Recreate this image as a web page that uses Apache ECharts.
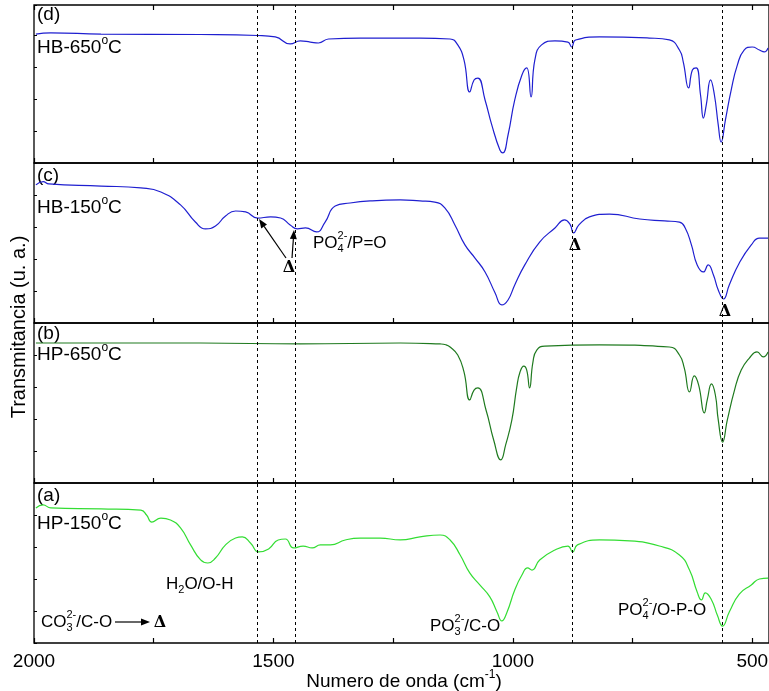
<!DOCTYPE html>
<html>
<head>
<meta charset="utf-8">
<script src="https://cdn.jsdelivr.net/npm/echarts@6/dist/echarts.min.js"></script>
<style>html,body{margin:0;padding:0;background:#fff}#c{width:769px;height:691px}</style>
</head>
<body>
<div id="c"></div>
<script>
// ---- data (wavenumber cm^-1, transmittance a.u.) ----
const wnD = [1996,1965,1860,1652,1533,1496,1465,1444,1423,1406,1385,1319,1194,1131,1115,1102,1090,1081,1073,1058,1044,1027,1021,1010,996,981,971,962,954,940,912,885,877,869,819,715,673,652,644,633,625,617,608,602,596,587,579,571,565,556,544,531,517,500,485,475,467];
const trD = [80.6,81.3,80.6,80.3,79.7,78.8,74.4,76.3,75.6,75.0,77.5,78.1,78.1,77.5,73.8,64.4,44.4,51.9,53.1,39.4,23.8,8.1,6.3,17.5,39.4,55.0,59.4,41.3,64.4,73.8,76.3,75.6,72.5,76.9,78.8,78.1,76.9,70.6,63.1,46.9,58.1,59.4,42.5,28.1,36.3,51.9,42.5,23.8,13.1,26.9,45.6,61.3,70.6,72.5,70.6,69.4,71.9];

const wnC = [1996,1981,1969,1860,1777,1735,1694,1663,1642,1621,1600,1579,1558,1533,1506,1485,1465,1450,1433,1410,1392,1371,1340,1298,1235,1194,1163,1142,1121,1100,1079,1058,1037,1023,1010,996,975,944,912,892,881,873,862,840,798,735,683,652,640,627,615,602,592,581,571,560,548,527,502,485,467];
const trC = [86.3,88.4,86.9,85.6,84.4,81.9,73.8,63.1,58.8,60.6,66.9,70.0,69.4,65.6,66.3,65.6,61.3,58.8,59.4,56.9,63.1,73.1,75.0,76.3,76.9,76.3,75.6,71.9,61.3,48.8,40.6,31.9,18.8,11.3,14.4,23.8,36.3,50.6,59.4,64.4,61.9,56.3,61.3,66.3,68.1,65.0,63.8,63.1,59.4,48.8,36.3,31.9,36.3,30.0,20.6,15.0,23.8,37.5,48.8,53.1,53.1];

const wnB = [1996,1860,1652,1444,1235,1152,1140,1131,1115,1102,1090,1081,1073,1056,1040,1025,1015,1002,992,985,977,971,965,958,950,933,819,673,652,642,631,621,612,600,594,585,577,571,562,552,537,523,506,490,477,467];
const trB = [87.5,87.5,87.5,86.9,87.5,86.9,86.4,85.0,80.0,69.4,51.9,58.1,59.4,45.6,26.9,14.4,23.8,39.4,59.4,69.4,73.1,70.6,59.4,75.6,83.1,85.6,86.3,85.0,80.0,71.9,56.9,66.9,61.3,43.8,51.9,61.9,55.0,39.4,25.6,39.4,58.1,70.6,78.1,81.9,78.8,81.9];

const wnA = [1996,1981,1965,1860,1777,1765,1754,1735,1715,1694,1673,1652,1637,1621,1600,1579,1565,1548,1531,1510,1490,1475,1458,1438,1419,1402,1381,1350,1319,1277,1235,1194,1152,1131,1110,1090,1069,1048,1033,1023,1012,996,981,969,960,944,912,885,875,865,819,756,694,652,631,615,606,598,585,573,562,548,527,502,485,467];
const trA = [84.4,86.3,84.4,83.8,83.1,80.0,75.6,78.1,76.9,71.9,61.3,51.9,50.0,53.1,61.3,65.6,66.3,62.5,56.9,58.8,64.4,65.0,59.4,60.6,59.4,61.3,61.3,64.4,65.6,65.6,64.4,66.3,67.5,64.4,55.0,43.8,36.3,28.8,19.4,13.8,19.4,33.1,42.5,46.9,45.6,51.9,58.1,60.6,56.9,61.3,64.4,63.8,60.6,55.0,45.6,31.9,26.9,31.3,26.9,17.5,10.6,19.4,30.6,36.3,40.0,40.6];

const refLines = [1533, 1454, 875, 562];
const tickValues = [500, 750, 1000, 1250, 1500, 1750, 2000];
const labelValues = [500, 1000, 1500, 2000];
const panelNames = ['(d)', '(c)', '(b)', '(a)'];
const sampleBase = ['HB-650', 'HB-150', 'HP-650', 'HP-150'];
const colors = ['#1f1fd0', '#1f1fd0', '#1f7a1f', '#33dd33'];

// ---- layout ----
const FONT = '"Liberation Sans", Arial, sans-serif';
const grids = [
  {left: 34, right: 0, top: 5, height: 158},
  {left: 34, right: 0, top: 163, height: 160},
  {left: 34, right: 0, top: 323, height: 160},
  {left: 34, right: 0, top: 483, height: 160}
];
const yMax = [98.75, 100, 100, 100];
const series = [[wnD, trD], [wnC, trC], [wnB, trB], [wnA, trA]];

const cv = document.createElement('canvas').getContext('2d');
function measure(t, size, fam) { cv.font = size + 'px ' + (fam || FONT); return cv.measureText(t).width; }
function txt(t, x, y, size, opts) {
  opts = opts || {};
  return {type: 'text', x: x, y: y, rotation: opts.rotation || 0, silent: true,
    style: {text: t, fill: '#000', font: (opts.weight || '') + ' ' + size + 'px ' + (opts.fam || FONT),
      align: opts.align || 'left', verticalAlign: 'middle', textAlign: opts.align || 'left', textVerticalAlign: 'middle'}};
}
function chem(x, y, size, base, sup, sub, rest) {
  const out = [];
  const ss = Math.round(size * 0.62);
  out.push(txt(base, x, y, size));
  const w = measure(base, size);
  if (sup) out.push(txt(sup, x + w, y - size * 0.40, ss));
  if (sub) out.push(txt(sub, x + w, y + size * 0.38, ss));
  const w2 = Math.max(sup ? measure(sup, ss) : 0, sub ? measure(sub, ss) : 0);
  out.push(txt(rest, x + w + w2, y, size));
  return out;
}
function arrow(x1, y1, x2, y2) {
  const a = Math.atan2(y2 - y1, x2 - x1), L = 9, H = 3.5;
  const bx = x2 - L * Math.cos(a), by = y2 - L * Math.sin(a);
  const px = -Math.sin(a) * H, py = Math.cos(a) * H;
  return [
    {type: 'line', silent: true, shape: {x1: x1, y1: y1, x2: bx, y2: by}, style: {stroke: '#000', lineWidth: 1.2}},
    {type: 'polygon', silent: true, shape: {points: [[x2, y2], [bx + px, by + py], [bx - px, by - py]]}, style: {fill: '#000'}}
  ];
}

const xAxis = grids.map((g, i) => ({
  type: 'value', gridIndex: i, min: 465, max: 2000, inverse: true,
  axisLine: {show: false}, splitLine: {show: false},
  axisTick: {show: true, inside: true, length: 5, customValues: tickValues, lineStyle: {color: '#000', width: 1.2}},
  axisLabel: {show: i === 3, customValues: labelValues, color: '#000', fontSize: 19, fontFamily: FONT, margin: 9,
    formatter: v => String(v)}
}));
// top ticks of the upper panel
xAxis.push({
  type: 'value', gridIndex: 0, position: 'top', min: 465, max: 2000, inverse: true,
  axisLine: {show: false}, splitLine: {show: false}, axisLabel: {show: false},
  axisTick: {show: true, inside: true, length: 5, customValues: tickValues, lineStyle: {color: '#000', width: 1.2}}
});
const yAxis = grids.map((g, i) => ({
  type: 'value', gridIndex: i, min: 0, max: yMax[i], interval: 20,
  axisLine: {show: false}, splitLine: {show: false}, axisLabel: {show: false},
  axisTick: {show: true, inside: true, length: 3, lineStyle: {color: '#000', width: 1}}
}));
const ser = series.map((s, i) => ({
  type: 'line', xAxisIndex: i, yAxisIndex: i, showSymbol: false, smooth: 0.5,
  data: s[0].map((w, k) => [w, s[1][k]]),
  lineStyle: {color: colors[i], width: 1.2}, itemStyle: {color: colors[i]}, silent: true,
  markLine: {silent: true, symbol: 'none', label: {show: false},
    lineStyle: {color: '#000', type: [3, 3], width: 1},
    data: refLines.map(v => ({xAxis: v}))}
}));

let gfx = [];
const labelY = [15, 176, 334, 496];
const nameY = [48, 208, 355, 524];
for (let i = 0; i < 4; i++) {
  gfx.push(txt(panelNames[i], 37, labelY[i], 19));
  gfx = gfx.concat(chem(37, nameY[i], 19, sampleBase[i], 'o', null, 'C'));
}
gfx = gfx.concat(chem(313, 243, 17, 'PO', '2-', '4', '/P=O'));
gfx = gfx.concat(chem(166, 584, 17, 'H', null, '2', 'O/O-H'));
gfx = gfx.concat(chem(41, 622, 17, 'CO', '2-', '3', '/C-O'));
gfx = gfx.concat(chem(430, 626, 17, 'PO', '2-', '3', '/C-O'));
gfx = gfx.concat(chem(618, 610, 17, 'PO', '2-', '4', '/O-P-O'));
gfx = gfx.concat(arrow(115, 622, 150, 622));
gfx = gfx.concat(arrow(286, 258, 259, 219));
gfx = gfx.concat(arrow(292, 258, 294, 230));
const SERIF = '"DejaVu Serif", serif';
[[160, 623], [289, 268], [575, 246], [725, 312]].forEach(p => {
  gfx.push(txt('Δ', p[0], p[1], 16, {fam: SERIF, align: 'center', weight: 'bold'}));
});
// axis titles
(function () {
  const s = 19, base = 'Numero de onda (cm', sup = '-1', rest = ')';
  const tw = measure(base, s) + measure(sup, 12) + measure(rest, s);
  gfx = gfx.concat(chem(404 - tw / 2, 682, s, base, sup, null, rest));
})();
gfx.push(txt('Transmitancia (u. a.)', 19, 327, 20, {align: 'center', rotation: Math.PI / 2}));

const chart = echarts.init(document.getElementById('c'), null, {renderer: 'canvas'});
chart.setOption({
  animation: false,
  backgroundColor: '#fff',
  grid: grids.map(g => Object.assign({show: true, borderColor: '#000', borderWidth: 1.3, backgroundColor: 'transparent',
    containLabel: false, outerBoundsMode: 'none'}, g)),
  xAxis: xAxis, yAxis: yAxis, series: ser, graphic: {elements: gfx}
});
</script>
</body>
</html>
